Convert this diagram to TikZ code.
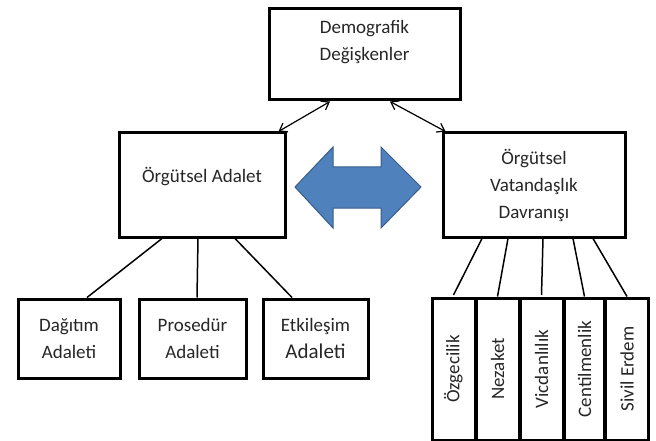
\documentclass[tikz,border=0pt]{standalone}
\usepackage{fontspec}
\setmainfont{Carlito}
\usetikzlibrary{arrows.meta}
\definecolor{arrowblue}{HTML}{4F81BD}
\definecolor{arrowedge}{HTML}{385D8A}
\begin{document}
\begin{tikzpicture}[x=1pt,y=-1pt,
  box/.style={draw, line width=3pt, text=black!85, align=center, inner sep=0pt,
    font=\fontsize{19}{27}\selectfont},
  vbox/.style={box, rotate=90, minimum width=142, minimum height=43},
  link/.style={line width=1.5pt},
  tie/.style={line width=1.2pt, {Straight Barb[length=7pt,width=10pt]}-{Straight Barb[length=7pt,width=10pt]}}]
\useasboundingbox (0,0) rectangle (656,441);
\node[box, minimum width=191, minimum height=91, text depth=28pt] (demo) at (364.5,54.5) {Demografik\\Değişkenler};
\node[box, minimum width=166, minimum height=104, text depth=21pt] (oa) at (202,185) {Örgütsel Adalet};
\node[box, minimum width=182, minimum height=104] (ovd) at (534,185) {Örgütsel\\Vatandaşlık\\Davranışı};
\node[box, minimum width=102, minimum height=79] (dag) at (69,338.5) {Dağıtım\\Adaleti};
\node[box, minimum width=107, minimum height=79] (pro) at (192.5,338.5) {Prosedür\\Adaleti};
\node[box, minimum width=105, minimum height=79] (etk) at (315.5,338.5) {Etkileşim\\{\fontsize{21}{27}\selectfont Adaleti}};
\node[vbox] (ozg) at (453.5,369) {Özgecilik};
\node[vbox] (nez) at (497.5,369) {Nezaket};
\node[vbox] (vic) at (541.5,369) {Vicdanlılık};
\node[vbox, minimum height=40] (cen) at (584.5,369) {Centilmenlik};
\node[vbox] (siv) at (627,369) {Sivil Erdem};
\draw[tie] ([xshift=-34.5]demo.south) -- ([xshift=-8]oa.north east);
\draw[tie] ([xshift=25.5]demo.south) -- ([xshift=4]ovd.north west);
\draw[fill=arrowblue, draw=arrowedge, line width=1pt] (295,187) -- (333,147) -- (333,167) -- (381,167) -- (381,147) -- (421,187) -- (381,228) -- (381,208) -- (333,208) -- (333,228) -- cycle;
\draw[link] ([xshift=-40]oa.south) -- ([xshift=18]dag.north);
\draw[link] ([xshift=-4]oa.south) -- ([xshift=4.5]pro.north);
\draw[link] ([xshift=33]oa.south) -- ([xshift=-23.5]etk.north);
\draw[link] ([xshift=-52]ovd.south) -- ([yshift=1.5]ozg.east);
\draw[link] ([xshift=-26]ovd.south) -- (nez.east);
\draw[link] ([xshift=9]ovd.south) -- ([yshift=1.5]vic.east);
\draw[link] ([xshift=39]ovd.south) -- (cen.east);
\draw[link] ([xshift=59]ovd.south) -- (siv.east);
\end{tikzpicture}
\end{document}
